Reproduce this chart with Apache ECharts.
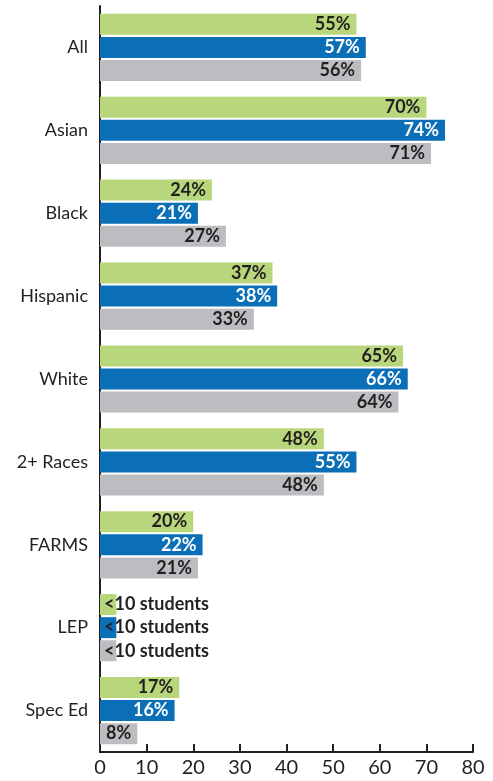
<!DOCTYPE html>
<html><head><meta charset="utf-8">
<script src="https://cdn.jsdelivr.net/npm/echarts@6/dist/echarts.min.js"></script>
<style>html,body{margin:0;padding:0;background:#fff}#c{width:493px;height:781px}</style>
</head><body><div id="c"></div>
<script>
const categories = ['All','Asian','Black','Hispanic','White','2+ Races','FARMS','LEP','Spec Ed'];
const greenValues = [55,70,24,37,65,48,20,3.5,17];
const blueValues  = [57,74,21,38,66,55,22,3.5,16];
const grayValues  = [56,71,27,33,64,48,21,3.5,8];
const suppressed = [false,false,false,false,false,false,false,true,false];
const suppressedText = '<10 students';
const xTicks = [0,10,20,30,40,50,60,70,80];

function mkSeries(name, vals, color, textColor){
  return {
    name, type:'bar', barWidth:21, barGap:'10%',
    itemStyle:{color},
    data: vals.map((v,i)=>{
      const d = {value:v};
      if (suppressed[i]) {
        d.label = {position:'insideLeft', distance:4, color:'#231f20', formatter: suppressedText};
      }
      return d;
    }),
    label:{show:true, position:'insideRight', distance:6, color:textColor,
      fontFamily:'Lato', fontWeight:'bold', fontSize:18,
      formatter: p => p.value + '%'}
  };
}
const chart = echarts.init(document.getElementById('c'));
chart.setOption({
  animation:false,
  grid:{left:100, right:20, top:6, bottom:29, containLabel:false},
  xAxis:{type:'value', min:0, max:80, interval:10,
    axisLine:{show:true, lineStyle:{color:'#231f20', width:2}},
    axisTick:{show:true, inside:true, length:8, lineStyle:{color:'#231f20', width:2}},
    splitLine:{show:false},
    axisLabel:{color:'#231f20', fontFamily:'Lato', fontSize:20, margin:6,
      formatter: v => xTicks.includes(v) ? String(v) : ''}
  },
  yAxis:{type:'category', data:categories, inverse:true,
    axisLine:{show:true, lineStyle:{color:'#231f20', width:2}},
    axisTick:{show:false},
    axisLabel:{color:'#231f20', fontFamily:'Lato', fontSize:18, margin:12}
  },
  series:[
    mkSeries('g', greenValues, '#b8d67b', '#231f20'),
    mkSeries('b', blueValues, '#0b6fb8', '#ffffff'),
    mkSeries('s', grayValues, '#bcbdc0', '#231f20')
  ]
});
</script></body></html>
